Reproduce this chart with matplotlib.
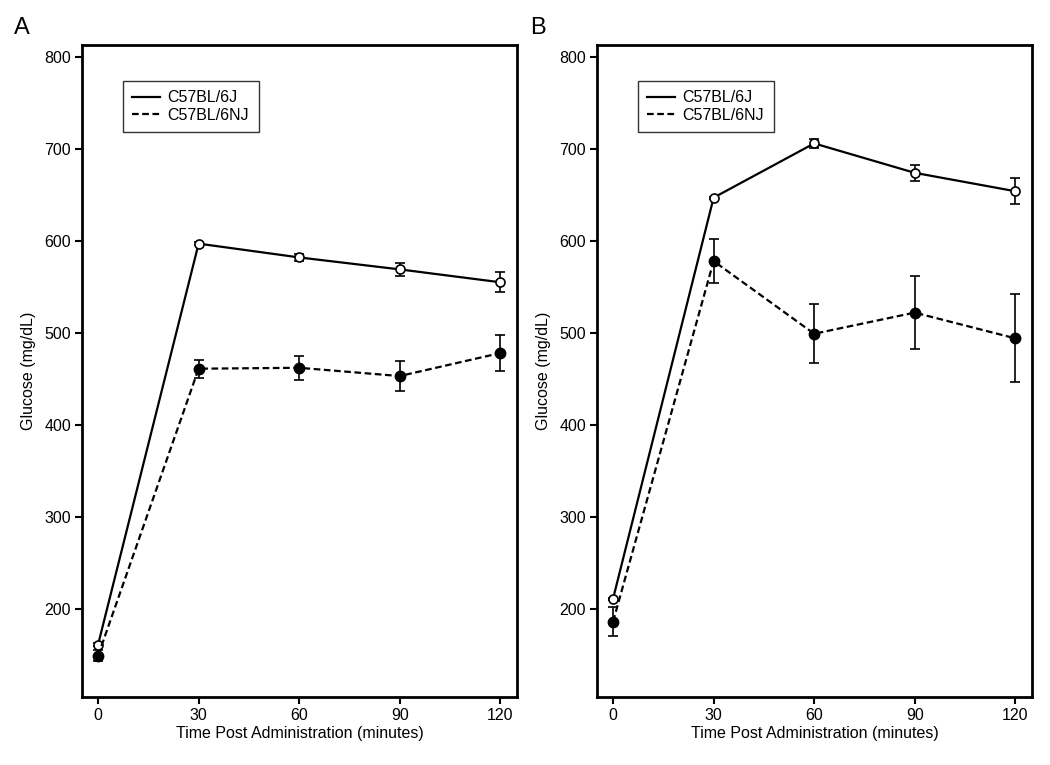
import matplotlib
matplotlib.use("Agg")
import matplotlib.pyplot as plt
from matplotlib.lines import Line2D

plt.rcParams['font.family'] = ['Liberation Sans', 'DejaVu Sans']

time = [0, 30, 60, 90, 120]
xticks = [0, 30, 60, 90, 120]
yticks = [200, 300, 400, 500, 600, 700, 800]

# Panel A
a_j_mean = [161, 597, 582, 569, 555]
a_j_err = [2, 2, 4, 7, 11]
a_nj_mean = [149, 461, 462, 453, 478]
a_nj_err = [6, 10, 13, 16, 20]

# Panel B
b_j_mean = [211, 647, 706, 674, 654]
b_j_err = [1, 1, 5, 9, 14]
b_nj_mean = [186, 578, 499, 522, 494]
b_nj_err = [16, 24, 32, 40, 48]

labels = ["C57BL/6J", "C57BL/6NJ"]
panels = ["A", "B"]

fig = plt.figure(figsize=(10.5, 7.65), dpi=100)
W, H = 1050, 765
axA = fig.add_axes([82 / W, 1 - 697 / H, 435 / W, 652 / H])
axB = fig.add_axes([597 / W, 1 - 697 / H, 435 / W, 652 / H])

data = [(axA, a_j_mean, a_j_err, a_nj_mean, a_nj_err),
        (axB, b_j_mean, b_j_err, b_nj_mean, b_nj_err)]

for i, (ax, jm, je, nm, ne) in enumerate(data):
    ax.errorbar(time, jm, yerr=je, color='black', lw=1.6, ls='-',
                marker='o', ms=6.5, mfc='white', mec='black', mew=1.2,
                capsize=3.5, elinewidth=1.2, capthick=1.2, zorder=3)
    ax.errorbar(time, nm, yerr=ne, color='black', lw=1.6, ls=(0, (3, 1.6)),
                marker='o', ms=7.5, mfc='black', mec='black',
                capsize=3.5, elinewidth=1.2, capthick=1.2, zorder=3)
    ax.set_xlim(-4.8, 125)
    ax.set_ylim(104, 813)
    ax.set_xticks(xticks)
    ax.set_yticks(yticks)
    ax.tick_params(direction='out', length=5, width=1.5, labelsize=11.5, pad=3)
    for s in ax.spines.values():
        s.set_linewidth(2)
    ax.set_xlabel("Time Post Administration (minutes)", fontsize=11.5, labelpad=2)
    ax.set_ylabel("Glucose (mg/dL)", fontsize=11.5, labelpad=6)
    lh = [Line2D([], [], color='black', lw=1.6, ls='-'),
          Line2D([], [], color='black', lw=1.6, ls=(0, (3, 1.6)))]
    leg = ax.legend(lh, labels, loc='upper left', bbox_to_anchor=(0.094, 0.945),
                    borderaxespad=0, frameon=True, fancybox=False, fontsize=11.5,
                    handlelength=1.7, handletextpad=0.5, borderpad=0.6,
                    labelspacing=0.15)
    leg.get_frame().set_edgecolor('black')
    leg.get_frame().set_linewidth(1.0)

fig.text(14 / W, 1 - 28 / H, panels[0], fontsize=17, va='center', ha='left')
fig.text(530 / W, 1 - 28 / H, panels[1], fontsize=17, va='center', ha='left')

fig.savefig("out.png", dpi=100)
